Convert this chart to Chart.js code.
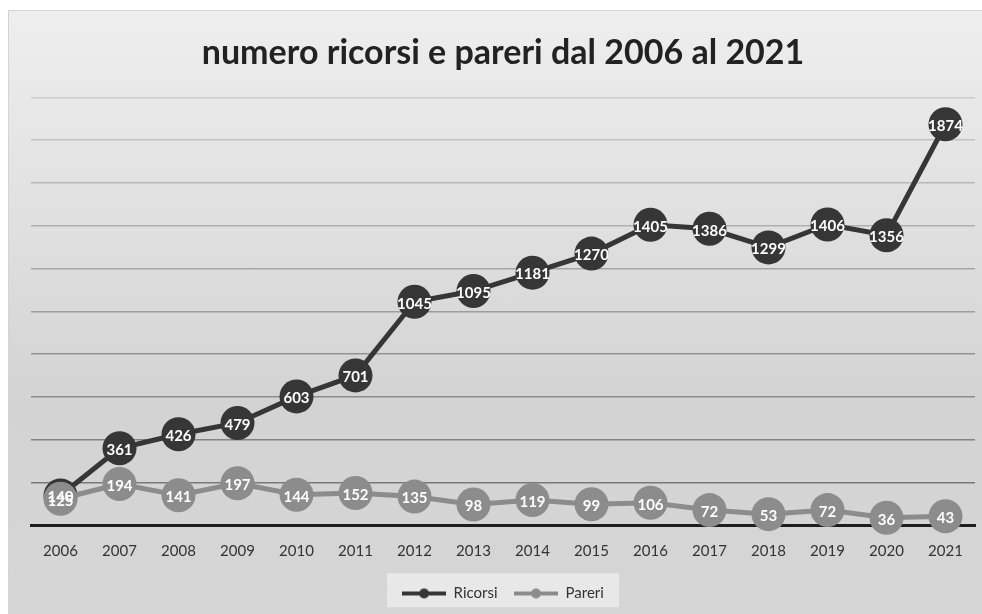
<!DOCTYPE html>
<html lang="it">
<head>
<meta charset="UTF-8">
<title>numero ricorsi e pareri</title>
<script src="https://cdn.jsdelivr.net/npm/chart.js"></script>
<style>
  body { margin: 0; background: #fff; }
  #box {
    position: absolute; left: 8px; top: 10px; width: 974px; height: 604px;
    background: linear-gradient(#eeeeee 0%, #e2e2e2 30%, #d3d3d3 65%, #d6d6d6 100%);
    border-left: 1px solid #d4d4d4; border-top: 1px solid #d4d4d4;
    box-sizing: border-box;
  }
</style>
</head>
<body>
<div id="box"><canvas id="mycanvas"></canvas></div>
<script>
  const anni = ['2006','2007','2008','2009','2010','2011','2012','2013','2014','2015','2016','2017','2018','2019','2020','2021']
  const ricorsi = [140, 361, 426, 479, 603, 701, 1045, 1095, 1181, 1270, 1405, 1386, 1299, 1406, 1356, 1874]
  const pareri = [125, 194, 141, 197, 144, 152, 135, 98, 119, 99, 106, 72, 53, 72, 36, 43]

  const scuro = '#363636'
  const chiaro = '#8c8c8c'

  // simbolo della legenda: linea con pallino
  function legendIcon(color) {
    const c = document.createElement('canvas')
    c.width = 44; c.height = 14
    const g = c.getContext('2d')
    g.strokeStyle = color; g.lineWidth = 4
    g.beginPath(); g.moveTo(0, 7); g.lineTo(44, 7); g.stroke()
    g.fillStyle = color
    g.beginPath(); g.arc(22, 7, 5, 0, Math.PI * 2); g.fill()
    return c
  }

  // etichette dentro i cerchi
  const etichette = {
    id: 'etichette',
    afterDatasetsDraw(chart) {
      const ctx = chart.ctx
      ctx.save()
      ctx.font = 'bold 15px Lato'
      ctx.fillStyle = '#ffffff'
      ctx.textAlign = 'center'
      ctx.textBaseline = 'middle'
      chart.data.datasets.forEach((ds, i) => {
        chart.getDatasetMeta(i).data.forEach((pt, j) => {
          ctx.fillText(ds.data[j], pt.x, pt.y + 2)
        })
      })
      ctx.restore()
    }
  }

  // sfondo chiaro dietro la legenda
  const sfondoLegenda = {
    id: 'sfondoLegenda',
    beforeDraw(chart) {
      const l = chart.legend
      if (!l) return
      const ctx = chart.ctx
      ctx.save()
      ctx.fillStyle = 'rgba(236,236,236,0.8)'
      const w = 232, h = 34
      ctx.fillRect((l.left + l.right) / 2 - w / 2, (l.top + l.bottom) / 2 - h / 2, w, h)
      ctx.restore()
    }
  }

  Chart.defaults.font.family = 'Lato'
  Chart.defaults.color = '#333'

  new Chart(document.getElementById('mycanvas'), {
    type: 'line',
    plugins: [etichette, sfondoLegenda],
    data: {
      labels: anni,
      datasets: [
        {
          label: 'Ricorsi',
          data: ricorsi,
          borderColor: scuro,
          backgroundColor: scuro,
          borderWidth: 5,
          pointRadius: 17,
          pointHoverRadius: 17,
          pointBorderWidth: 0,
          clip: false,
          order: 1
        },
        {
          label: 'Pareri',
          data: pareri,
          borderColor: chiaro,
          backgroundColor: chiaro,
          borderWidth: 5,
          pointRadius: 17,
          pointHoverRadius: 17,
          pointBorderWidth: 0,
          clip: false,
          order: 0
        }
      ]
    },
    options: {
      responsive: true,
      maintainAspectRatio: false,
      animation: false,
      layout: { autoPadding: false, padding: { left: 22, right: 7, top: 0, bottom: 3 } },
      scales: {
        x: {
          offset: true,
          grid: { display: false },
          border: { color: '#1e1e1e', width: 3 },
          ticks: { font: { size: 15 }, color: '#333', padding: 9, maxRotation: 0 }
        },
        y: {
          min: 0,
          max: 2000,
          ticks: { display: false, stepSize: 200 },
          border: { display: false },
          grid: {
            drawTicks: false,
            lineWidth: 1.5,
            color: (c) => {
              if (c.tick.value === 0) return 'rgba(0,0,0,0)'
              const t = c.tick.value / 2000
              const v = Math.round(112 + t * 90)
              return `rgb(${v},${v},${v})`
            }
          }
        }
      },
      plugins: {
        title: {
          display: true,
          text: 'numero ricorsi e pareri dal 2006 al 2021',
          font: { size: 34, weight: 'bold' },
          color: '#222',
          padding: { top: 21.5, bottom: 24 }
        },
        legend: {
          position: 'bottom',
          labels: {
            usePointStyle: true,
            pointStyleWidth: 44,
            font: { size: 15 },
            color: '#333',
            padding: 16.5,
            generateLabels: (chart) => chart.data.datasets.map((ds, i) => ({
              text: ds.label,
              pointStyle: legendIcon(ds.borderColor),
              datasetIndex: i,
              fontColor: '#333',
              lineWidth: 0,
              strokeStyle: 'transparent',
              fillStyle: 'transparent'
            }))
          }
        },
        tooltip: { enabled: false }
      }
    }
  })
</script>
</body>
</html>
